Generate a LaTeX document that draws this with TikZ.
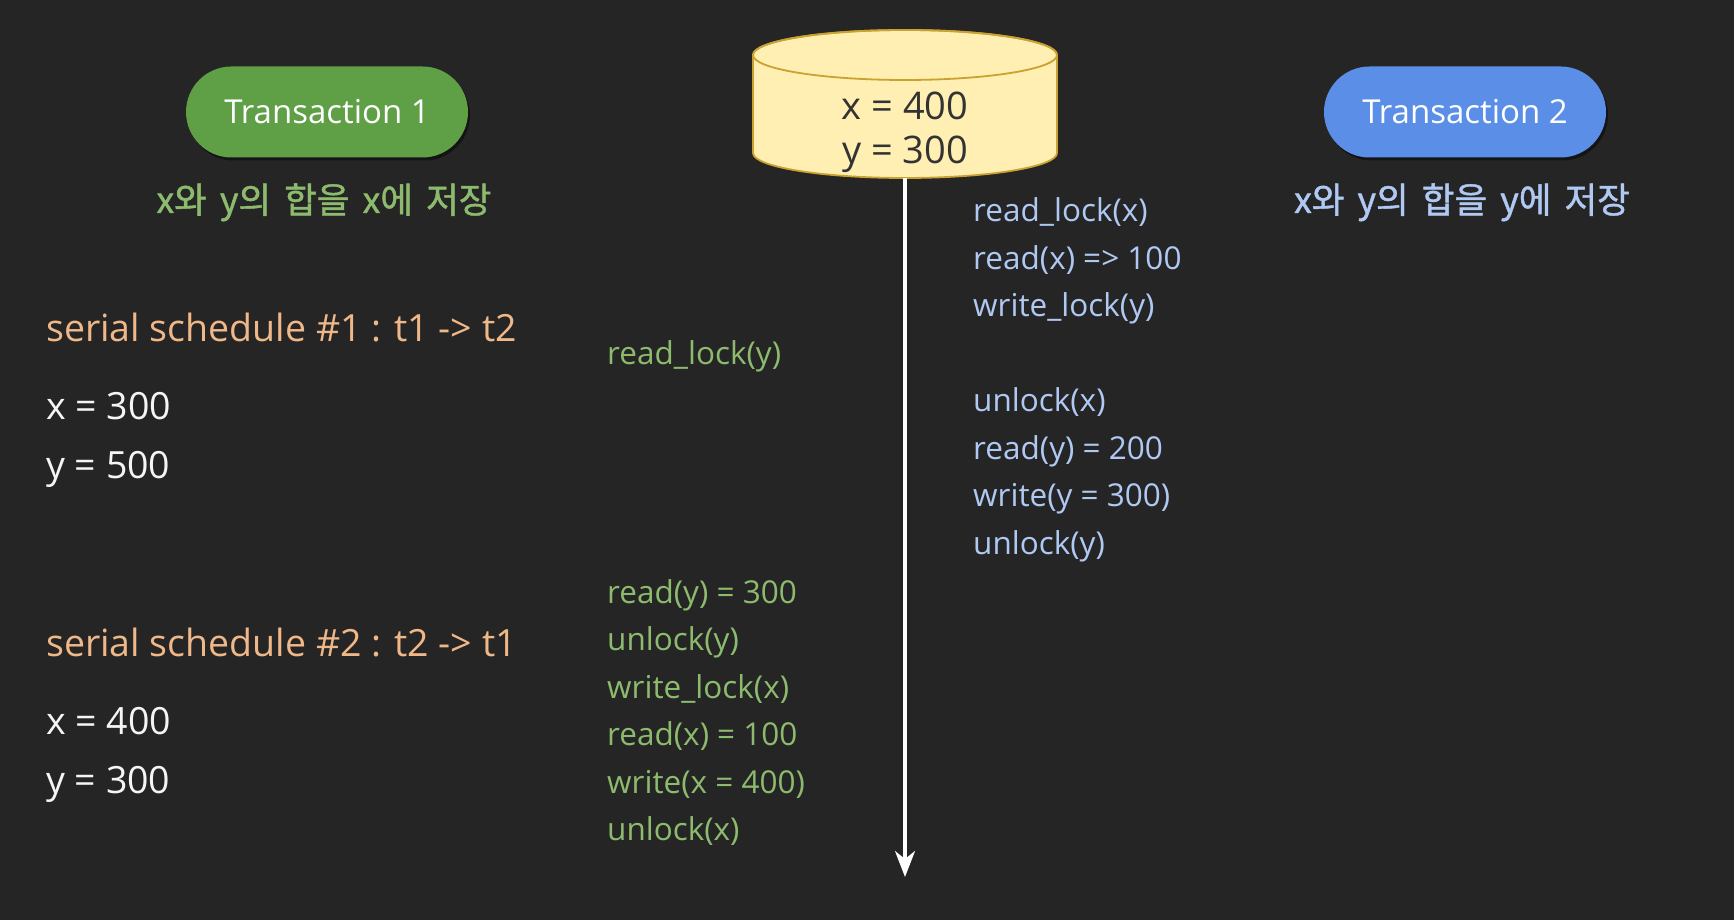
\documentclass[tikz,border=0pt]{standalone}
\usepackage{fontspec}
\setmainfont{Open Sans}
\newfontfamily\krfont[WordSpace=1.65, FakeBold=1.2]{Noto Sans CJK KR}
\usetikzlibrary{arrows.meta,shadows}
\definecolor{bg}{HTML}{252525}
\definecolor{pillgreen}{HTML}{5FA046}
\definecolor{pillblue}{HTML}{5B8EE6}
\definecolor{tgreen}{HTML}{8DBB6E}
\definecolor{tblue}{HTML}{B0C9F3}
\definecolor{torange}{HTML}{F0B888}
\definecolor{twhite}{HTML}{F5F5F5}
\definecolor{dbfill}{HTML}{FFEFB2}
\definecolor{dbline}{HTML}{C9A232}
\definecolor{dbtext}{HTML}{333333}
\tikzset{
  pill/.style={rounded corners=45.5pt, minimum width=282pt, minimum height=91pt,
    text=white, font=\fontsize{33}{38}\selectfont, inner sep=0pt,
    drop shadow={shadow xshift=2pt, shadow yshift=-3pt, opacity=0.45, fill=black}},
  note/.style={anchor=base, inner sep=0pt, font=\krfont\fontsize{35.5}{40}\selectfont},
  op/.style={anchor=base west, inner sep=0pt, font=\fontsize{31.5}{36}\selectfont},
  head/.style={anchor=base west, inner sep=0pt, font=\fontsize{37.5}{42}\selectfont},
}
\begin{document}
\begin{tikzpicture}[x=1pt,y=1pt]
  \fill[bg] (0,0) rectangle (1734,920);
  \useasboundingbox (0,0) rectangle (1734,920);

  % transactions
  \node[pill, fill=pillgreen] (t1) at (327,808) {Transaction 1};
  \node[pill, fill=pillblue] (t2) at (1465,808) {Transaction 2};
  \node[note, text=tgreen] (n1) at (324,707) {x와 y의 합을 x에 저장};
  \node[note, text=tblue] (n2) at (1462,707) {x와 y의 합을 y에 저장};

  % database cylinder
  \fill[dbfill, draw=dbline, line width=1.8pt]
    (753,865) -- (753,767) arc (180:360:152 and 25) -- (1057,865)
    arc (0:180:152 and 25) -- cycle;
  \draw[dbline, line width=1.8pt] (905,865) ellipse (152 and 25);
  \node[align=center, text=dbtext, font=\fontsize{38}{44}\selectfont, inner sep=0pt,
    minimum width=304pt, minimum height=92pt] (db) at (905,788) {x = 400\\y = 300};
  \coordinate (tl) at (905,43);
  \draw[white, line width=3.2pt, -{Stealth[length=26pt,width=20pt,inset=8pt]}]
    (db.south) -- (tl);

  % serial schedule results
  \node[head, text=torange] (s1) at (46,578) {serial schedule \#1 : t1 -> t2};
  \node[head, text=twhite] (s1x) at (46,500) {x = 300};
  \node[head, text=twhite] (s1y) at (46,441) {y = 500};
  \node[head, text=torange] (s2) at (46,263) {serial schedule \#2 : t2 -> t1};
  \node[head, text=twhite] (s2x) at (46,185) {x = 400};
  \node[head, text=twhite] (s2y) at (46,126) {y = 300};

  % transaction 1 operations
  \begin{scope}[every node/.append style={op, text=tgreen}]
    \node (a1) at (607,555) {read\_lock(y)};
    \node (a2) at (607,316) {read(y) = 300};
    \node (a3) at (607,269) {unlock(y)};
    \node (a4) at (607,221) {write\_lock(x)};
    \node (a5) at (607,174) {read(x) = 100};
    \node (a6) at (607,126) {write(x = 400)};
    \node (a7) at (607,79) {unlock(x)};
  \end{scope}

  % transaction 2 operations
  \begin{scope}[every node/.append style={op, text=tblue}]
    \node (b1) at (973,698) {read\_lock(x)};
    \node (b2) at (973,650) {read(x) => 100};
    \node (b3) at (973,603) {write\_lock(y)};
    \node (b4) at (973,508) {unlock(x)};
    \node (b5) at (973,460) {read(y) = 200};
    \node (b6) at (973,413) {write(y = 300)};
    \node (b7) at (973,365) {unlock(y)};
  \end{scope}
\end{tikzpicture}
\end{document}
